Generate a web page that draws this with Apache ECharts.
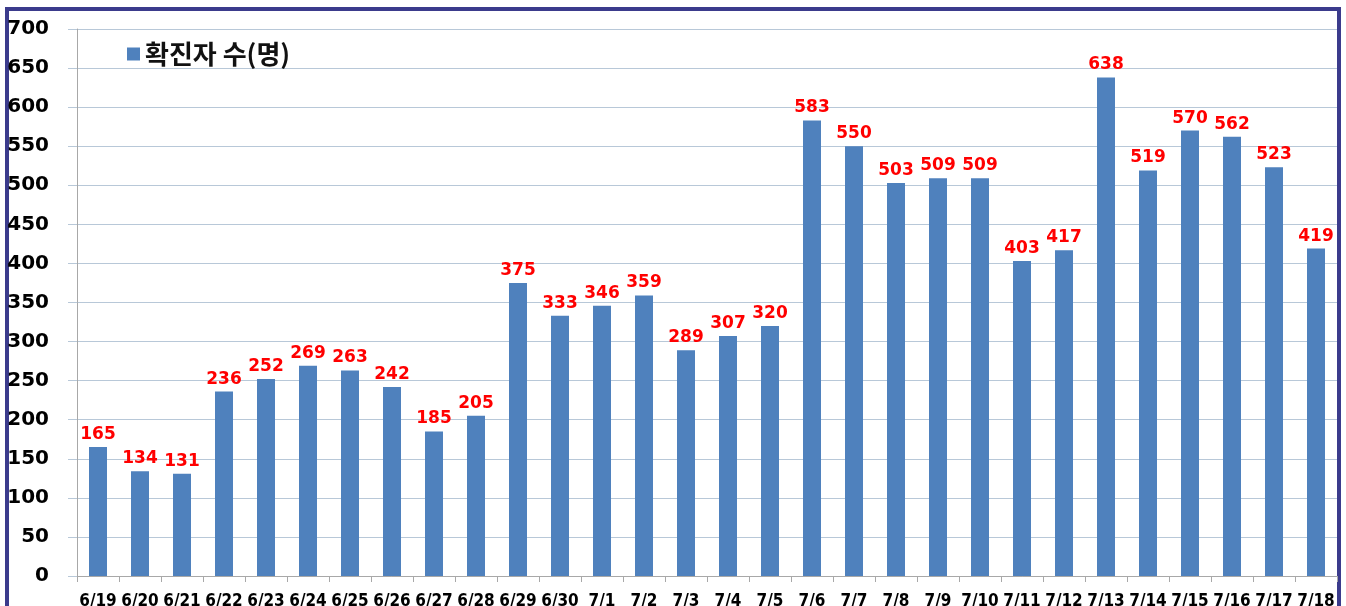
<!DOCTYPE html>
<html>
<head>
<meta charset="utf-8">
<script src="https://cdn.jsdelivr.net/npm/echarts@6/dist/echarts.min.js"></script>
<style>
  html, body { margin: 0; padding: 0; background: #fff; }
  #frame {
    position: absolute; left: 5px; top: 7px; width: 1328px; height: 620px;
    border: 4px solid #3b3b8c; box-sizing: content-box;
  }
  #main { position: absolute; left: 0; top: 0; width: 1346px; height: 606px; }
</style>
</head>
<body>
<div id="frame"></div>
<div id="main"></div>
<script>
// 날짜 (x축)
var days = ['6/19', '6/20', '6/21', '6/22', '6/23', '6/24', '6/25', '6/26', '6/27', '6/28',
            '6/29', '6/30', '7/1', '7/2', '7/3', '7/4', '7/5', '7/6', '7/7', '7/8',
            '7/9', '7/10', '7/11', '7/12', '7/13', '7/14', '7/15', '7/16', '7/17', '7/18'];
// 일별 확진자 수
var cases = [165, 134, 131, 236, 252, 269, 263, 242, 185, 205,
             375, 333, 346, 359, 289, 307, 320, 583, 550, 503,
             509, 509, 403, 417, 638, 519, 570, 562, 523, 419];
var seriesName = '확진자 수(명)';

var myChart = echarts.init(document.getElementById('main'));
myChart.setOption({
    animation: false,
    grid: { left: 77, right: 9, top: 29, bottom: 30, containLabel: false, outerBoundsMode: 'none' },
    legend: {
        data: [seriesName],
        left: 122, top: 36,
        icon: 'rect', itemWidth: 13, itemHeight: 13, itemGap: 12,
        textStyle: { fontSize: 26, fontWeight: 'bold', color: '#111', fontFamily: 'Noto Sans CJK KR' }
    },
    xAxis: {
        type: 'category',
        data: days,
        axisLine: { lineStyle: { color: '#a8a8a8' } },
        axisTick: { show: true, length: 6, lineStyle: { color: '#a8a8a8' } },
        axisLabel: {
            interval: 0, margin: 17,
            fontSize: 17, fontWeight: 'bold', color: '#000',
            fontFamily: 'DejaVu Sans Condensed, Liberation Sans Narrow, sans-serif'
        }
    },
    yAxis: {
        type: 'value',
        min: 0, max: 700, interval: 50,
        axisLine: { show: true, lineStyle: { color: '#a8a8a8' } },
        axisTick: { show: true, length: 9, lineStyle: { color: '#b8c8d8' } },
        axisLabel: {
            align: 'right', margin: 28,
            fontSize: 20, fontWeight: 'bold', color: '#000',
            fontFamily: 'DejaVu Sans'
        },
        splitLine: { lineStyle: { color: '#b8c8d8', width: 1 } }
    },
    series: [
        {
            name: seriesName,
            type: 'bar',
            data: cases,
            barWidth: 18,
            itemStyle: { color: '#4f81bd' },
            label: {
                show: true, position: 'top', distance: 4,
                color: '#ff0000', fontSize: 17, fontWeight: 'bold',
                fontFamily: 'DejaVu Sans'
            }
        }
    ]
});
</script>
</body>
</html>
